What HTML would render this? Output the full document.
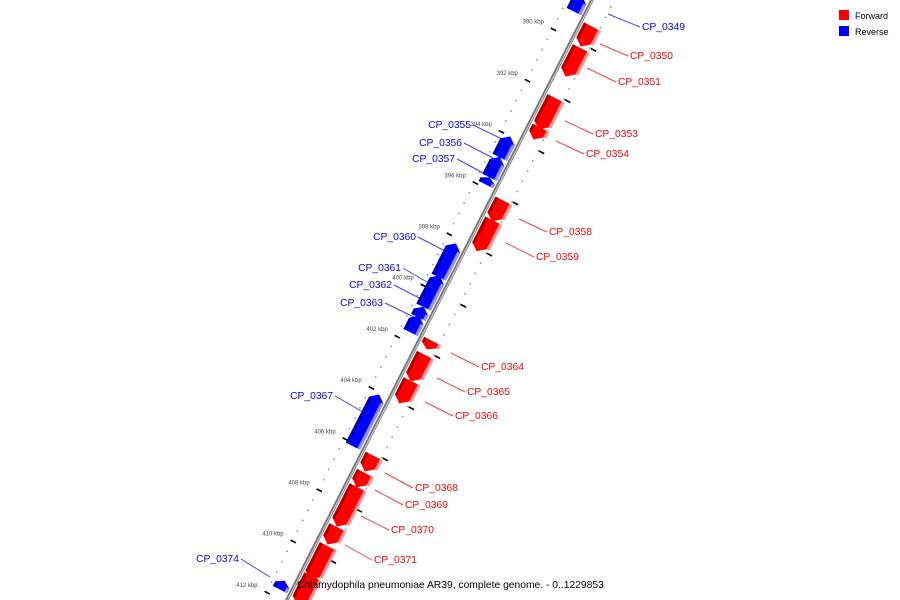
<!DOCTYPE html>
<html><head><meta charset="utf-8"><style>
html,body{margin:0;padding:0;background:#fff;width:900px;height:600px;overflow:hidden;}
svg{display:block;font-family:"Liberation Sans",sans-serif;}
</style></head><body>
<svg id="map" width="900" height="600" viewBox="0 0 900 600" xmlns="http://www.w3.org/2000/svg">
<rect width="900" height="600" fill="#fff"/>
<g id="ticks"></g>
<g id="backbone"></g>
<g id="genes"></g>
<g id="labels"></g>
<g>
<rect x="839" y="10" width="10" height="10" fill="#f00"/>
<text x="855" y="19" font-size="9" fill="#000">Forward</text>
<rect x="839" y="26" width="10" height="10" fill="#00f"/>
<text x="855" y="35" font-size="9" fill="#000">Reverse</text>
</g>
<text x="297" y="588" font-size="10.3" fill="#000">Chlamydophila pneumoniae AR39, complete genome. - 0..1229853</text>
</svg>
<script>
const geneNames=["CP_0348","CP_0350","CP_0351","CP_0353","CP_0354","CP_0355","CP_0356","CP_0357","CP_0358","CP_0359","CP_0360","CP_0361","CP_0362","CP_0363","CP_0364","CP_0365","CP_0366","CP_0367","CP_0368","CP_0369","CP_0370","CP_0371","CP_0372","CP_0373","CP_0374"];
const geneStart=[388.5,389.3,390.15,392.1,393.25,394.0,394.8,395.6,396.1,396.88,398.18,399.43,400.65,401.0,401.58,402.13,403.16,404.08,406.07,406.74,407.3,408.86,409.6,410.78,411.35];
const geneEnd=[389.12,390.1,391.27,393.34,393.73,394.82,395.6,395.88,396.93,398.1,399.5,400.67,401.07,401.66,401.93,403.18,404.04,406.1,406.7,407.32,408.85,409.55,410.92,411.9,411.7];
const geneStrand=[-1,1,1,1,1,-1,-1,-1,1,1,-1,-1,-1,-1,1,1,1,-1,1,1,1,1,1,1,-1];
const labelNames=["CP_0349","CP_0350","CP_0351","CP_0353","CP_0354","CP_0355","CP_0356","CP_0357","CP_0358","CP_0359","CP_0360","CP_0361","CP_0362","CP_0363","CP_0364","CP_0365","CP_0366","CP_0367","CP_0368","CP_0369","CP_0370","CP_0371","CP_0374"];
const labelX=[642,630,618,595,586,471,462,455,549,536,416,401,392,383,481,467,455,333,415,405,391,374,239];
const labelY=[26,55,81,133,153,124,142,158,231,256,236,267,284,302,366,391,415,395,487,504,529,559,558];
const labelStrand=[-1,1,1,1,1,-1,-1,-1,1,1,-1,-1,-1,-1,1,1,1,-1,1,1,1,1,-1];
const lineFromX=[608,600,587,565,556,502,493,487,519,506,447,432,423,414,451,437,425,363,385,375,361,345,270];
const lineFromY=[14,44,68,121,141,139,158,175,219,243,252,285,300,317,353,378,402,412,473,490,516,545,577];
const tickKbp=[390,392,394,396,398,400,402,404,406,408,410,412];
const tickLabels=["390 kbp","392 kbp","394 kbp","396 kbp","398 kbp","400 kbp","402 kbp","404 kbp","406 kbp","408 kbp","410 kbp","412 kbp"];

const NS="http://www.w3.org/2000/svg";
const PX=25.6, NX=0.891, NY=0.453;
function yb(k){return 39+(k-390)*PX;}
function pt(k,v){const y=yb(k);const x=592-0.5083*y;return [x+NX*v,y+NY*v];}
function mk(tag,attrs,parent){const e=document.createElementNS(NS,tag);for(const a in attrs)e.setAttribute(a,attrs[a]);parent.appendChild(e);return e;}
function poly(list){return list.map(p=>p[0].toFixed(1)+","+p[1].toFixed(1)).join(" ");}

const bb=document.getElementById('backbone');
let a=pt(386,0),b=pt(413,0);
let l1=mk('line',{x1:a[0],y1:a[1],x2:b[0],y2:b[1],stroke:'#777','stroke-width':3.5},bb);


let l2=mk('line',{x1:a[0]+0.6,y1:a[1],x2:b[0]+0.6,y2:b[1],stroke:'#ccc','stroke-width':1},bb);



const tk=document.getElementById('ticks');
for(let k=386;k<=413;k+=0.4){
  for(const v of [-22,20]){
    const p=pt(k,v);
    const d=mk('rect',{x:p[0]-0.8,y:p[1]-0.8,width:1.6,height:1.6,fill:'#999'},tk);
    
    
  }
}
for(let i=0;i<tickKbp.length;i++){
  const k=tickKbp[i];
  for(const v of [-21,24]){
    const p1=pt(k,v-3),p2=pt(k,v+3);
    const t=mk('line',{x1:p1[0],y1:p1[1],x2:p2[0],y2:p2[1],stroke:'#000','stroke-width':1.6},tk);
    
    
  }
  const p=pt(k,-25);
  const tx=mk('text',{x:p[0]-6,y:p[1]-4,'font-size':6,fill:'#444','text-anchor':'end'},tk);
  tx.textContent=tickLabels[i];
  
  
}

const gg=document.getElementById('genes');
for(let i=0;i<geneNames.length;i++){
  const s=geneStart[i],e=geneEnd[i],st=geneStrand[i];
  const len=e-s;const h=Math.min(0.22,len*0.5);
  const g=mk('g',{},gg);
  
  
  let v0,v1,main,dark,light;
  if(st>0){v0=3;v1=19;main='#f00';dark='#a00';light='#ff9090';}
  else{v0=-19;v1=-3;main='#00f';dark='#0000a0';light='#9090ff';}
  let shape;
  if(st>0){
    shape=[pt(s,v0),pt(s,v1),pt(e-h,v1),pt(e,(v0+v1)/2),pt(e-h,v0)];
  }else{
    shape=[pt(e,v0),pt(e,v1),pt(s+h,v1),pt(s,(v0+v1)/2),pt(s+h,v0)];
  }
  mk('polygon',{points:poly(shape),fill:main},g);
  let dk=st>0?[pt(s,v0),pt(s,v0+3),pt(e-h,v0+3),pt(e-h*0.8,v0+1.5),pt(e-h,v0)]:[pt(e,v0),pt(e,v0+3),pt(s+h,v0+3),pt(s+h,v0)];
  mk('polygon',{points:poly(dk),fill:dark},g);
  let lt=st>0?[pt(s,v1),pt(s,v1+3),pt(e-h,v1+3),pt(e-h,v1)]:[pt(e,v1-3),pt(e,v1),pt(s+h,v1),pt(s+h,v1-3)];
  mk('polygon',{points:poly(lt),fill:light},g);
}

const lg=document.getElementById('labels');
for(let i=0;i<labelNames.length;i++){
  const red=labelStrand[i]>0;
  const col=red?'#f00':'#00f';
  const leftAnchored=red||labelNames[i]==="CP_0349";
  const tx=labelX[i],ty=labelY[i];
  const ex=leftAnchored?tx-2:tx+2, ey=ty+1;
  const ln=mk('line',{x1:lineFromX[i],y1:lineFromY[i],x2:ex,y2:ey,stroke:col,'stroke-width':1,opacity:0.75},lg);
  
  
  const t=mk('text',{x:tx,y:ty+4,'font-size':10.3,fill:col,'text-anchor':leftAnchored?'start':'end'},lg);
  t.textContent=labelNames[i];
  
  
}
</script>
</body></html>
